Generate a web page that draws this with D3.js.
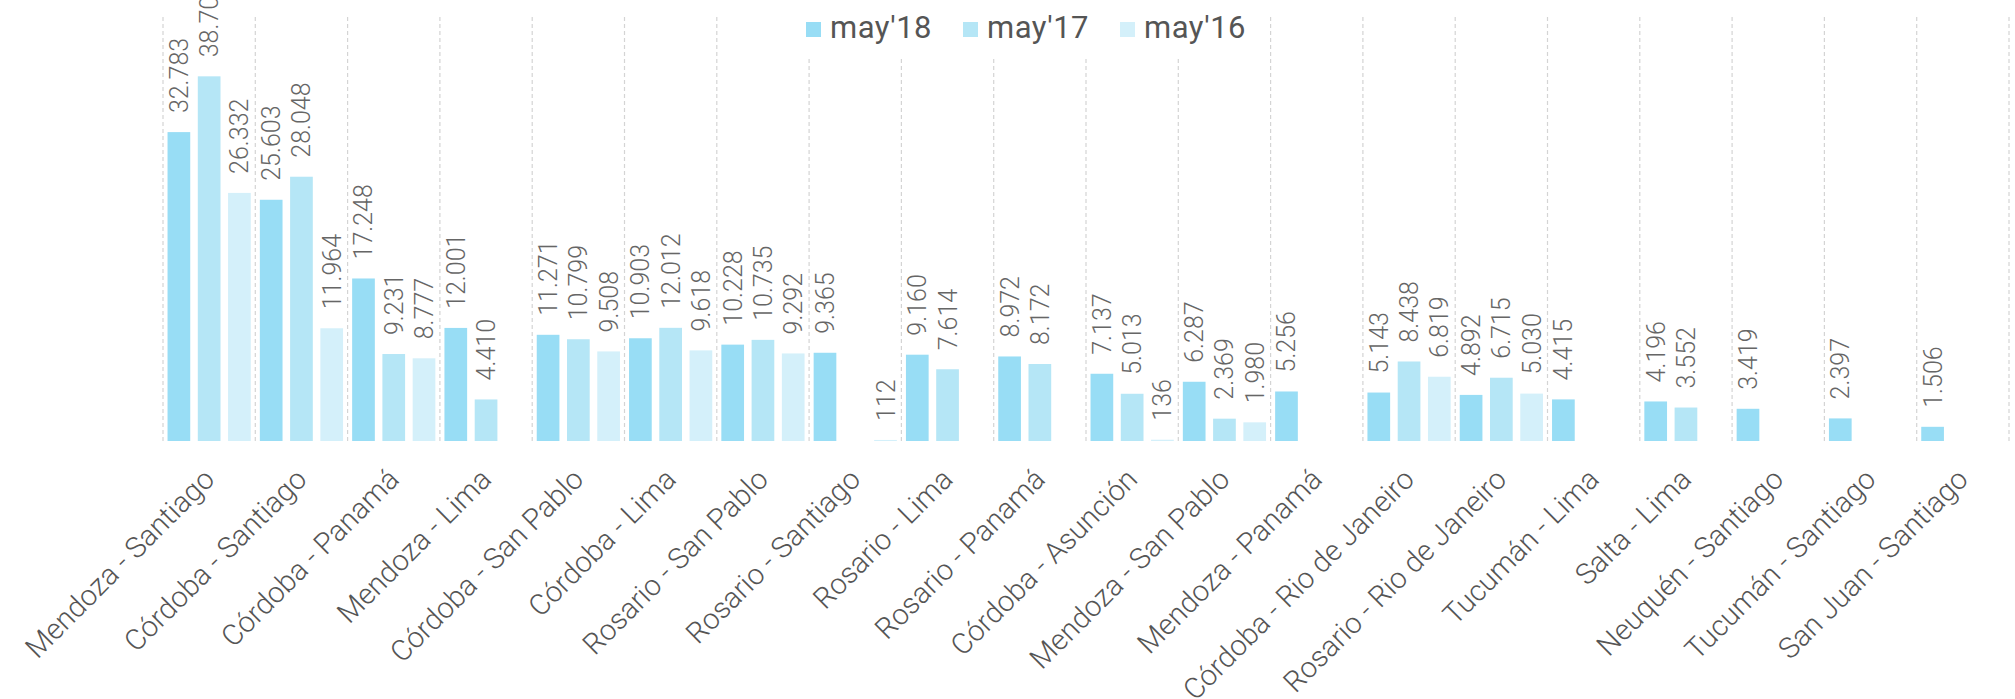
<!DOCTYPE html>
<html lang="es">
<head>
  <meta charset="UTF-8" />
  <title>Pasajeros por ruta</title>
  <script src="https://d3js.org/d3.v7.min.js"></script>
  <style>
    html, body {
      margin: 0;
      background: #fff;
      font-family: Roboto, sans-serif;
    }
    .grid {
      stroke: #d4d4d4;
      stroke-width: 1.2px;
      stroke-dasharray: 4 3;
    }
    .val {
      font-size: 25px;
      font-weight: 300;
      fill: #666;
    }
    .xlab {
      font-size: 29px;
      font-weight: 300;
      fill: #555;
    }
    .leg {
      font-size: 31px;
      letter-spacing: 0.5px;
      fill: #555;
    }
  </style>
</head>
<body>
  <svg id="chart"></svg>

  <script>
    // routes, in chart order
    const routes = [
      'Mendoza - Santiago', 'Córdoba - Santiago', 'Córdoba - Panamá', 'Mendoza - Lima',
      'Córdoba - San Pablo', 'Córdoba - Lima', 'Rosario - San Pablo', 'Rosario - Santiago',
      'Rosario - Lima', 'Rosario - Panamá', 'Córdoba - Asunción', 'Mendoza - San Pablo',
      'Mendoza - Panamá', 'Córdoba - Rio de Janeiro', 'Rosario - Rio de Janeiro', 'Tucumán - Lima',
      'Salta - Lima', 'Neuquén - Santiago', 'Tucumán - Santiago', 'San Juan - Santiago'
    ];
    const seriesNames = ["may'18", "may'17", "may'16"];

    // passengers per route (null = no data)
    const may18 = [32783, 25603, 17248, 12001, 11271, 10903, 10228, 9365, 9160, 8972,
                   7137, 6287, 5256, 5143, 4892, 4415, 4196, 3419, 2397, 1506];
    const may17 = [38704, 28048, 9231, 4410, 10799, 12012, 10735, null, 7614, 8172,
                   5013, 2369, null, 8438, 6715, null, 3552, null, null, null];
    const may16 = [26332, 11964, 8777, null, 9508, 9618, 9292, 112, null, null,
                   136, 1980, null, 6819, 5030, null, null, null, null, null];

    const colors = ['#98ddf5', '#b5e6f6', '#d4f0fa'];

    const W = 2015, H = 699;
    const svg = d3.select('#chart').attr('width', W).attr('height', H);

    const x = d3.scaleBand().domain(routes).range([163, 2009]);
    const x1 = d3.scaleBand().domain(seriesNames).range([0, x.bandwidth()])
      .paddingInner(0.25).paddingOuter(0.15);
    const y = d3.scaleLinear().domain([0, 45000]).range([441, 17]);

    // thousands with dot, as in the original
    const fmt = d3.formatLocale({decimal: ',', thousands: '.', grouping: [3], currency: ['$', '']}).format(',d');

    // dashed category separators
    const edges = routes.map(r => x(r)).concat([x.range()[1]]);
    svg.append('g').selectAll('line')
      .data(edges)
      .enter().append('line')
        .attr('class', 'grid')
        .attr('x1', d => d).attr('x2', d => d)
        .attr('y1', y.range()[1]).attr('y2', y(0));

    const data = seriesNames.map((s, i) => ({
      name: s,
      color: colors[i],
      values: [may18, may17, may16][i].map((v, j) => ({route: routes[j], v}))
        .filter(d => d.v != null)
    }));

    // bars
    const groups = svg.append('g').selectAll('g')
      .data(data)
      .enter().append('g');

    groups.selectAll('rect')
      .data(d => d.values.map(v => ({...v, s: d.name, color: d.color})))
      .enter().append('rect')
        .attr('x', d => x(d.route) + x1(d.s))
        .attr('width', x1.bandwidth())
        .attr('y', d => y(d.v))
        .attr('height', d => y(0) - y(d.v))
        .attr('fill', d => d.color);

    // value labels, rotated
    groups.selectAll('text')
      .data(d => d.values.map(v => ({...v, s: d.name})))
      .enter().append('text')
        .attr('class', 'val')
        .attr('transform', d => {
          const cx = x(d.route) + x1(d.s) + x1.bandwidth() / 2 + 9;
          return `translate(${cx},${y(d.v) - 19}) rotate(-90)`;
        })
        .text(d => fmt(d.v));

    // category labels
    svg.append('g').selectAll('text')
      .data(routes)
      .enter().append('text')
        .attr('class', 'xlab')
        .attr('text-anchor', 'end')
        .attr('transform', d => `translate(${x(d) + x.bandwidth() / 2 + 7},481) rotate(-45)`)
        .text(d => d);

    // legend (white box hides the grid behind it)
    const legend = svg.append('g');
    legend.append('rect')
      .attr('x', 790).attr('y', 0)
      .attr('width', 472).attr('height', 58)
      .attr('fill', '#fff');
    const item = legend.selectAll('g')
      .data(seriesNames)
      .enter().append('g')
        .attr('transform', (d, i) => `translate(${806 + i * 157},0)`);
    item.append('rect')
      .attr('y', 22).attr('width', 15).attr('height', 15)
      .attr('fill', (d, i) => colors[i]);
    item.append('text')
      .attr('class', 'leg')
      .attr('x', 24).attr('y', 38)
      .text(d => d);
  </script>
</body>
</html>
